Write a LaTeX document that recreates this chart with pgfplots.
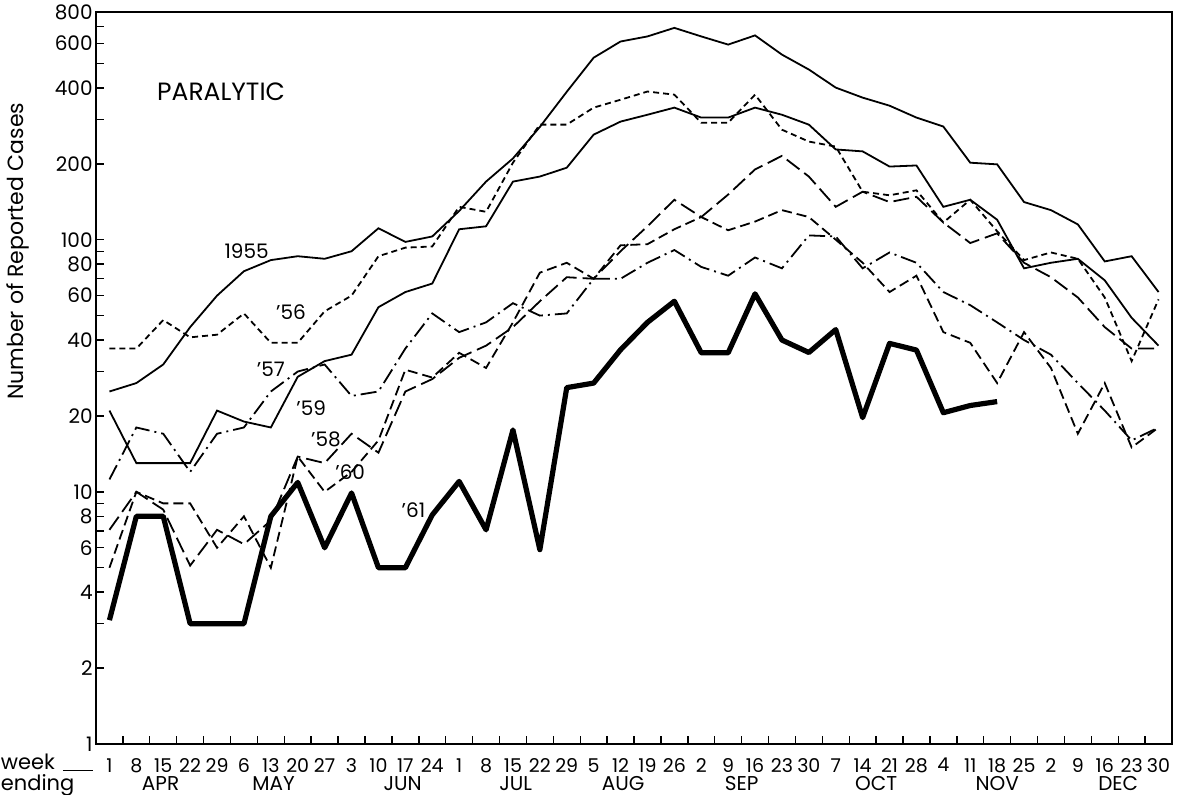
\documentclass[border=0pt]{standalone}
\usepackage{pgfplots}
\pgfplotsset{compat=1.18}
\usepackage{fontspec}
\setmainfont{Poppins}
\begin{document}
\begin{tikzpicture}
\begin{axis}[
  scale only axis, width=538pt, height=366pt,
  xmin=-0.5, xmax=39.5, ymode=log, log basis y=10, ymin=1, ymax=800,
  axis line style={line width=0.9pt},
  clip=false,
  xtick pos=bottom, ytick pos=left,
  tick align=inside,
  major tick length=4pt, minor tick length=4pt,
  tick style={black, line width=0.7pt},
  xtick={0.5,1.5,...,38.5}, xticklabels={},
  extra x ticks={0,...,39},
  extra x tick labels={1,8,15,22,29,6,13,20,27,3,10,17,24,1,8,15,22,29,5,12,19,26,2,9,16,23,30,7,14,21,28,4,11,18,25,2,9,16,23,30},
  extra x tick style={major tick length=0pt},
  xticklabel style={font=\fontsize{9.5}{10}\selectfont, inner sep=1pt, yshift=-6pt},
  ytick={1,2,4,6,8,10,20,40,60,80,100,200,400,600,800},
  yticklabels={1,2,4,6,8,10,20,40,60,80,100,200,400,600,800},
  minor ytick={3,5,7,9,30,50,70,90,300,500,700},
  yticklabel style={font=\fontsize{10}{11}\selectfont, inner sep=1.5pt},
  no markers,
]
% 1955
\addplot[black, line width=0.9pt] coordinates {(0,25)(1,27)(2,32)(3,45)(4,60)(5,75)(6,83)(7,86)(8,84)(9,90)(10,111)(11,98)(12,103)(13,130)(14,170)(15,210)(16,280)(17,386)(18,527)(19,611)(20,640)(21,692)(22,640)(23,594)(24,646)(25,542)(26,473)(27,401)(28,366)(29,340)(30,305)(31,281)(32,202)(33,199)(34,141)(35,131)(36,115)(37,82)(38,86)(39,62)};
% 1956
\addplot[black, line width=0.9pt, dash pattern=on 3pt off 2pt] coordinates {(0,37)(1,37)(2,48)(3,41)(4,42)(5,51)(6,39)(7,39)(8,52)(9,60)(10,86)(11,93)(12,94)(13,135)(14,129)(15,202)(16,286)(17,286)(18,334)(19,359)(20,387)(21,376)(22,291)(23,291)(24,376)(25,273)(26,245)(27,234)(28,155)(29,150)(30,157)(31,117)(32,144)(33,108)(34,83)(35,89)(36,84)(37,59)(38,33)(39,58)};
% 1957
\addplot[black, line width=0.9pt, dash pattern=on 8pt off 2.5pt on 1pt off 2.5pt] coordinates {(0,11.2)(1,18)(2,17)(3,12)(4,17)(5,18)(6,25)(7,30)(8,32)(9,24)(10,25)(11,37)(12,51)(13,43)(14,47)(15,56)(16,50)(17,51)(18,70)(19,70)(20,81)(21,91)(22,78)(23,72)(24,85)(25,77)(26,104)(27,103)(28,77)(29,89)(30,81)(31,62)(32,55)(33,47)(34,40)(35,35)(36,27)(37,21)(38,16)(39,18)};
% 1958
\addplot[black, line width=0.9pt, dash pattern=on 8pt off 3pt] coordinates {(0,7.07)(1,10)(2,8.5)(3,5.1)(4,7.07)(5,6.2)(6,7.7)(7,13.8)(8,13)(9,17)(10,14.3)(11,25)(12,28)(13,34)(14,38)(15,45)(16,57)(17,71)(18,70)(19,90)(20,113)(21,144)(22,123)(23,151)(24,190)(25,215)(26,178)(27,135)(28,155)(29,141)(30,148)(31,117)(32,97)(33,106)(34,81)(35,71)(36,59)(37,45)(38,37)(39,37)};
% 1959
\addplot[black, line width=0.9pt] coordinates {(0,21)(1,13)(2,13)(3,13)(4,21)(5,19)(6,18)(7,28.6)(8,33)(9,35)(10,54)(11,62)(12,67)(13,110)(14,113)(15,170)(16,178)(17,193)(18,261)(19,294)(20,313)(21,334)(22,305)(23,305)(24,334)(25,313)(26,286)(27,228)(28,224)(29,195)(30,197)(31,135)(32,144)(33,120)(34,77)(35,81)(36,84)(37,69)(38,49)(39,38)};
% 1960
\addplot[black, line width=0.9pt, dash pattern=on 5pt off 2.5pt] coordinates {(0,5)(1,10)(2,9)(3,9)(4,6)(5,8)(6,5)(7,13.8)(8,10)(9,12)(10,16)(11,30.5)(12,28.4)(13,35.6)(14,31)(15,47)(16,74)(17,81)(18,70)(19,95)(20,96)(21,110)(22,123)(23,109)(24,118)(25,131)(26,123)(27,100)(28,81)(29,62)(30,72)(31,43)(32,39)(33,27)(34,43)(35,31)(36,17)(37,27)(38,15)(39,18)};
% 1961
\addplot[black, line width=2.6pt, line join=round] coordinates {(0,3.1)(1,8)(2,8)(3,3)(4,3)(5,3)(6,8)(7,10.9)(8,6)(9,9.9)(10,5)(11,5)(12,8.1)(13,11)(14,7.07)(15,17.6)(16,5.9)(17,25.9)(18,27)(19,36.6)(20,47)(21,57)(22,35.6)(23,35.6)(24,61)(25,40)(26,35.7)(27,44)(28,19.7)(29,38.8)(30,36.5)(31,20.6)(32,22)(33,22.8)};

\node[font=\fontsize{12.5}{13}\selectfont, anchor=center] at (axis cs:4.15,387) {PARALYTIC};
\node[font=\fontsize{10}{11}\selectfont] at (axis cs:5.1,90.4) {1955};
\node[font=\fontsize{10}{11}\selectfont] at (axis cs:6.75,51.8) {'56};
\node[font=\fontsize{10}{11}\selectfont] at (axis cs:6.0,30.5) {'57};
\node[font=\fontsize{10}{11}\selectfont] at (axis cs:7.5,21.5) {'59};
\node[font=\fontsize{10}{11}\selectfont] at (axis cs:8.05,16.1) {'58};
\node[font=\fontsize{10}{11}\selectfont] at (axis cs:8.95,12) {'60};
\node[font=\fontsize{10}{11}\selectfont] at (axis cs:11.3,8.5) {'61};

\node[font=\fontsize{10.5}{11}\selectfont, anchor=base west, inner sep=0pt] at (axis cs:-4.05,0.79) {week};
\node[font=\fontsize{10.5}{11}\selectfont, anchor=base west, inner sep=0pt] at (axis cs:-4.05,0.657) {ending};
\draw[line width=0.7pt] (axis cs:-1.73,0.785) -- (axis cs:-0.6,0.785);
\node[font=\fontsize{10}{11}\selectfont, anchor=base, inner sep=0pt] at (axis cs:1.9,0.652) {APR};
\node[font=\fontsize{10}{11}\selectfont, anchor=base, inner sep=0pt] at (axis cs:6.1,0.652) {MAY};
\node[font=\fontsize{10}{11}\selectfont, anchor=base, inner sep=0pt] at (axis cs:10.9,0.652) {JUN};
\node[font=\fontsize{10}{11}\selectfont, anchor=base, inner sep=0pt] at (axis cs:15.1,0.652) {JUL};
\node[font=\fontsize{10}{11}\selectfont, anchor=base, inner sep=0pt] at (axis cs:19.1,0.652) {AUG};
\node[font=\fontsize{10}{11}\selectfont, anchor=base, inner sep=0pt] at (axis cs:23.5,0.652) {SEP};
\node[font=\fontsize{10}{11}\selectfont, anchor=base, inner sep=0pt] at (axis cs:28.5,0.652) {OCT};
\node[font=\fontsize{10}{11}\selectfont, anchor=base, inner sep=0pt] at (axis cs:33.0,0.652) {NOV};
\node[font=\fontsize{10}{11}\selectfont, anchor=base, inner sep=0pt] at (axis cs:37.5,0.652) {DEC};
\node[font=\fontsize{11}{12}\selectfont, rotate=90] at (axis cs:-3.4,90) {Number of Reported Cases};
\end{axis}
\pgfresetboundingbox
\useasboundingbox (-48pt,-25.5pt) rectangle (540.5pt,372pt);
\end{tikzpicture}
\end{document}
